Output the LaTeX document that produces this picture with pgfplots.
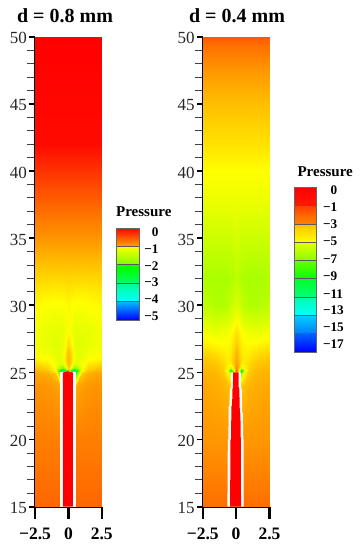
\documentclass[border=0pt]{standalone}
\usepackage{fontspec}
\setmainfont{Liberation Serif}
\usepackage{pgfplots}
\usepackage{pgfplotstable}
\pgfplotsset{compat=1.18}
\pgfplotsset{
  colormap={mapL}{rgb255(0pt)=(0,0,255) rgb255(125pt)=(0,255,255) rgb255(250pt)=(0,255,0) rgb255(375pt)=(255,255,0) rgb255(500pt)=(255,0,0)},
  colormap={mapR}{rgb255(0pt)=(0,0,255) rgb255(45pt)=(0,255,255) rgb255(90pt)=(0,255,0) rgb255(135pt)=(255,255,0) rgb255(160pt)=(255,110,0) rgb255(170pt)=(255,0,0)},
  field/.style={
    scale only axis, width=66.8pt, height=470pt, clip=false,
    xmin=-2.5, xmax=2.5, ymin=15, ymax=50,
    axis x line*=bottom, axis y line*=left,
    axis line style={-, line width=2.2pt, black},
    ytick={15,20,25,30,35,40,45,50},
    yticklabels={15,20,25,30,35,40,45,50},
    minor y tick num=4,
    tick align=outside,
    major tick length=5.5pt, minor tick length=7.5pt,
    ytick style={line width=1.8pt, black},
    minor y tick style={line width=0.9pt, black!75},
    xtick={-2.5,0,2.5},
    xticklabels={−2.5,0,2.5},
    xtick style={draw=none},
    yticklabel style={font=\fontsize{17}{17}\selectfont, text=black!85, inner sep=0pt, xshift=-2.5pt, yshift=-1.5pt},
    xticklabel style={font=\fontsize{17.5}{17.5}\bfseries\selectfont, inner sep=0pt, text height=12pt, text depth=0pt, yshift=-15pt},
    point meta=explicit,
  },
  cbar/.style={
    scale only axis, width=22.8pt, clip=false,
    xmin=0, xmax=1, xtick=\empty,
    axis line style={line width=0.9pt, black!60},
    axis on top,
    yticklabel pos=right,
    ytick style={draw=none},
    major tick length=0pt,
    yticklabel style={font=\fontsize{13.2}{13.2}\bfseries\selectfont, inner sep=0pt, anchor=west},
    point meta=explicit,
  },
}
\pgfplotstableread[row sep=\\]{
x y p\\
2.5 15 -.5\\ 1.5 15 -.5\\ .95 15 -.5\\ .6 15 -.5\\ .4 15 -.5\\ .2 15 -.5\\ 0 15 -.5\\
2.5 20 -.62\\ 1.5 20 -.62\\ .95 20 -.62\\ .6 20 -.62\\ .4 20 -.62\\ .2 20 -.62\\ 0 20 -.62\\
2.5 24 -.72\\ 1.5 24 -.74\\ .95 24 -.78\\ .6 24 -.85\\ .4 24 -.85\\ .2 24 -.85\\ 0 24 -.85\\
2.5 24.9 -.8\\ 1.5 24.9 -.85\\ .95 24.9 -1.0\\ .6 24.9 -2.0\\ .4 24.9 -1.5\\ .2 24.9 -.8\\ 0 24.9 -.4\\
2.5 25.1 -.85\\ 1.5 25.1 -.95\\ .95 25.1 -1.25\\ .6 25.1 -2.6\\ .4 25.1 -3.6\\ .2 25.1 -2.6\\ 0 25.1 -.7\\
2.5 25.3 -.95\\ 1.5 25.3 -1.05\\ .95 25.3 -1.3\\ .6 25.3 -1.7\\ .4 25.3 -1.9\\ .2 25.3 -1.4\\ 0 25.3 -1.0\\
2.5 25.6 -1.05\\ 1.5 25.6 -1.15\\ .95 25.6 -1.3\\ .6 25.6 -1.4\\ .4 25.6 -1.4\\ .2 25.6 -1.1\\ 0 25.6 -.9\\
2.5 26 -1.2\\ 1.5 26 -1.25\\ .95 26 -1.35\\ .6 26 -1.38\\ .4 26 -1.3\\ .2 26 -1.05\\ 0 26 -.88\\
2.5 26.5 -1.28\\ 1.5 26.5 -1.33\\ .95 26.5 -1.38\\ .6 26.5 -1.38\\ .4 26.5 -1.32\\ .2 26.5 -1.1\\ 0 26.5 -.92\\
2.5 27 -1.3\\ 1.5 27 -1.36\\ .95 27 -1.4\\ .6 27 -1.4\\ .4 27 -1.36\\ .2 27 -1.2\\ 0 27 -1.05\\
2.5 28 -1.3\\ 1.5 28 -1.36\\ .95 28 -1.38\\ .6 28 -1.38\\ .4 28 -1.38\\ .2 28 -1.32\\ 0 28 -1.22\\
2.5 30 -1.22\\ 1.5 30 -1.26\\ .95 30 -1.28\\ .6 30 -1.27\\ .4 30 -1.27\\ .2 30 -1.25\\ 0 30 -1.22\\
2.5 33 -.95\\ 1.5 33 -.95\\ .95 33 -.95\\ .6 33 -.95\\ .4 33 -.95\\ .2 33 -.95\\ 0 33 -.95\\
2.5 35 -.73\\ 1.5 35 -.73\\ .95 35 -.73\\ .6 35 -.73\\ .4 35 -.73\\ .2 35 -.73\\ 0 35 -.73\\
2.5 37 -.54\\ 1.5 37 -.54\\ .95 37 -.54\\ .6 37 -.54\\ .4 37 -.54\\ .2 37 -.54\\ 0 37 -.54\\
2.5 40 -.25\\ 1.5 40 -.25\\ .95 40 -.25\\ .6 40 -.25\\ .4 40 -.25\\ .2 40 -.25\\ 0 40 -.25\\
2.5 42 -.05\\ 1.5 42 -.05\\ .95 42 -.05\\ .6 42 -.05\\ .4 42 -.05\\ .2 42 -.05\\ 0 42 -.05\\
2.5 50 0\\ 1.5 50 0\\ .95 50 0\\ .6 50 0\\ .4 50 0\\ .2 50 0\\ 0 50 0\\
}\fieldL
\pgfplotstableread[row sep=\\]{
x y p\\
2.5 15 -1.0\\ 1.5 15 -1.0\\ .95 15 -1.0\\ .6 15 -1.0\\ .35 15 -1.0\\ .18 15 -1.0\\ 0 15 -1.0\\
2.5 20 -1.7\\ 1.5 20 -1.7\\ .95 20 -1.7\\ .6 20 -1.7\\ .35 20 -1.7\\ .18 20 -1.7\\ 0 20 -1.7\\
2.5 24 -2.0\\ 1.5 24 -2.1\\ .95 24 -2.2\\ .6 24 -2.4\\ .35 24 -2.6\\ .18 24 -2.6\\ 0 24 -2.6\\
2.5 24.9 -2.15\\ 1.5 24.9 -2.25\\ .95 24.9 -2.5\\ .6 24.9 -3.3\\ .35 24.9 -5\\ .18 24.9 -2.5\\ 0 24.9 -1\\
2.5 25.1 -2.2\\ 1.5 25.1 -2.3\\ .95 25.1 -2.6\\ .6 25.1 -3.8\\ .35 25.1 -9\\ .18 25.1 -4\\ 0 25.1 -.8\\
2.5 25.3 -2.3\\ 1.5 25.3 -2.4\\ .95 25.3 -2.7\\ .6 25.3 -3.4\\ .35 25.3 -4.5\\ .18 25.3 -2.8\\ 0 25.3 -1.5\\
2.5 25.6 -2.4\\ 1.5 25.6 -2.5\\ .95 25.6 -2.8\\ .6 25.6 -3.2\\ .35 25.6 -3.2\\ .18 25.6 -2.4\\ 0 25.6 -1.8\\
2.5 26 -2.5\\ 1.5 26 -2.7\\ .95 26 -3\\ .6 26 -3.2\\ .35 26 -3\\ .18 26 -2.5\\ 0 26 -2\\
2.5 26.5 -2.8\\ 1.5 26.5 -3\\ .95 26.5 -3.2\\ .6 26.5 -3.3\\ .35 26.5 -3.1\\ .18 26.5 -2.7\\ 0 26.5 -2.2\\
2.5 27 -3.1\\ 1.5 27 -3.3\\ .95 27 -3.4\\ .6 27 -3.4\\ .35 27 -3.2\\ .18 27 -2.9\\ 0 27 -2.5\\
2.5 28 -3.7\\ 1.5 28 -3.9\\ .95 28 -3.8\\ .6 28 -3.7\\ .35 28 -3.5\\ .18 28 -3.3\\ 0 28 -3\\
2.5 29 -4.2\\ 1.5 29 -4.4\\ .95 29 -4.3\\ .6 29 -4.2\\ .35 29 -4\\ .18 29 -3.8\\ 0 29 -3.6\\
2.5 30 -4.6\\ 1.5 30 -4.9\\ .95 30 -4.9\\ .6 30 -4.7\\ .35 30 -4.5\\ .18 30 -4.3\\ 0 30 -4.1\\
2.5 32 -4.9\\ 1.5 32 -5\\ .95 32 -5\\ .6 32 -5\\ .35 32 -4.9\\ .18 32 -4.8\\ 0 32 -4.6\\
2.5 35 -4.4\\ 1.5 35 -4.4\\ .95 35 -4.4\\ .6 35 -4.4\\ .35 35 -4.4\\ .18 35 -4.3\\ 0 35 -4.2\\
2.5 38 -3.8\\ 1.5 38 -3.8\\ .95 38 -3.8\\ .6 38 -3.8\\ .35 38 -3.8\\ .18 38 -3.8\\ 0 38 -3.8\\
2.5 40 -3.5\\ 1.5 40 -3.5\\ .95 40 -3.5\\ .6 40 -3.5\\ .35 40 -3.5\\ .18 40 -3.5\\ 0 40 -3.5\\
2.5 42 -3\\ 1.5 42 -3\\ .95 42 -3\\ .6 42 -3\\ .35 42 -3\\ .18 42 -3\\ 0 42 -3\\
2.5 45 -2.4\\ 1.5 45 -2.4\\ .95 45 -2.4\\ .6 45 -2.4\\ .35 45 -2.4\\ .18 45 -2.4\\ 0 45 -2.4\\
2.5 47.5 -1.7\\ 1.5 47.5 -1.7\\ .95 47.5 -1.7\\ .6 47.5 -1.7\\ .35 47.5 -1.7\\ .18 47.5 -1.7\\ 0 47.5 -1.7\\
2.5 50 -.8\\ 1.5 50 -.8\\ .95 50 -.8\\ .6 50 -.8\\ .35 50 -.8\\ .18 50 -.8\\ 0 50 -.8\\
}\fieldR
\pgfplotstableread[row sep=\\]{
x y p\\
0 5 0\\ 1 5 0\\ 0 4 -.8\\ 1 4 -.8\\
0 4 -1.25\\ 1 4 -1.25\\ 0 3 -1.9\\ 1 3 -1.9\\
0 3 -2.4\\ 1 3 -2.4\\ 0 2 -3.0\\ 1 2 -3.0\\
0 2 -3.2\\ 1 2 -3.2\\ 0 1 -3.8\\ 1 1 -3.8\\
0 1 -4.1\\ 1 1 -4.1\\ 0 0 -5\\ 1 0 -5\\
}\barL
\pgfplotstableread[row sep=\\]{
x y p\\
0 9 0\\ 1 9 0\\ 0 8 -.25\\ 1 8 -.25\\
0 8 -.55\\ 1 8 -.55\\ 0 7 -1.3\\ 1 7 -1.3\\
0 7 -2.4\\ 1 7 -2.4\\ 0 6 -3.5\\ 1 6 -3.5\\
0 6 -3.94\\ 1 6 -3.94\\ 0 5 -5.7\\ 1 5 -5.7\\
0 5 -6.2\\ 1 5 -6.2\\ 0 4 -8\\ 1 4 -8\\
0 4 -8.7\\ 1 4 -8.7\\ 0 3 -10.1\\ 1 3 -10.1\\
0 3 -11\\ 1 3 -11\\ 0 2 -12.5\\ 1 2 -12.5\\
0 2 -13.3\\ 1 2 -13.3\\ 0 1 -14.8\\ 1 1 -14.8\\
0 1 -15.3\\ 1 1 -15.3\\ 0 0 -17\\ 1 0 -17\\
}\barR
\begin{document}
\begin{tikzpicture}[x=1pt,y=1pt]
\useasboundingbox (0,0) rectangle (360pt,-550pt);
% left panel
\begin{axis}[field, at={(35pt,-506.7pt)}, anchor=south west,
  colormap name=mapL, point meta min=-5, point meta max=0]
\addplot[surf, shader=interp, mesh/cols=7] table[x=x,y=y,meta=p]{\fieldL};
\addplot[surf, shader=interp, mesh/cols=7] table[x expr=-\thisrow{x},y=y,meta=p]{\fieldL};
\addplot[fill=white, draw=none] coordinates {(-.61,15)(-.61,25)(.56,25)(.56,15)} -- cycle;
\addplot[fill=red, draw=none] coordinates {(-.41,15)(-.41,25)(-.2,25.03)(-.05,25.1)(.12,25.03)(.34,25)(.34,15)} -- cycle;
\draw[line width=2.2pt] (axis cs:-2.5,15) -- ++(0pt,-12pt);
\draw[line width=2.2pt] (axis cs:0,15) -- ++(0pt,-12pt);
\draw[line width=2.2pt] (axis cs:2.5,15) -- ++(0pt,-12pt);
\end{axis}
% right panel
\begin{axis}[field, at={(202.7pt,-506.7pt)}, anchor=south west,
  colormap name=mapR, point meta min=-17, point meta max=0]
\addplot[surf, shader=interp, mesh/cols=7] table[x=x,y=y,meta=p]{\fieldR};
\addplot[surf, shader=interp, mesh/cols=7] table[x expr=-\thisrow{x},y=y,meta=p]{\fieldR};
\addplot[fill=white, draw=none] coordinates {(-.65,15)(-.62,20)(-.58,20)(-.55,22.5)(-.5,22.5)(-.45,23.8)(-.4,23.8)(-.38,25)(.35,25)(.37,23.8)(.42,23.8)(.46,22)(.5,22)(.54,20)(.57,20)(.57,15)} -- cycle;
\addplot[fill=red, draw=none] coordinates {(-.45,15)(-.42,20)(-.38,20)(-.35,22.5)(-.3,22.5)(-.27,23.8)(-.24,23.8)(-.22,25)(.18,25)(.2,23.8)(.24,23.8)(.28,22)(.32,22)(.35,20)(.37,15)} -- cycle;
\draw[line width=2.2pt] (axis cs:-2.5,15) -- ++(0pt,-12pt);
\draw[line width=2.2pt] (axis cs:0,15) -- ++(0pt,-12pt);
\draw[line width=2.2pt] (axis cs:2.5,15) -- ++(0pt,-12pt);
\end{axis}
% colour bars
\begin{axis}[cbar, at={(116.3pt,-320pt)}, anchor=south west, height=92pt,
  ymin=0, ymax=5, colormap name=mapL, point meta min=-5, point meta max=0,
  ytick={0.23,1.14,2.05,2.95,3.86,4.77},
  yticklabels={−5,−4,−3,−2,−1,\phantom{−}0},
  yticklabel style={xshift=5pt}]
\addplot[surf, shader=interp, mesh/cols=2] table[x=x,y=y,meta=p]{\barL};
\addplot[black!65, line width=0.8pt] coordinates {(0,1)(1,1)};
\addplot[black!65, line width=0.8pt] coordinates {(0,2)(1,2)};
\addplot[black!65, line width=0.8pt] coordinates {(0,3)(1,3)};
\addplot[black!65, line width=0.8pt] coordinates {(0,4)(1,4)};
\end{axis}
\begin{axis}[cbar, at={(294pt,-352pt)}, anchor=south west, height=164.5pt,
  ymin=0, ymax=9, colormap name=mapR, point meta min=-17, point meta max=0,
  ytick={0.44,1.37,2.28,3.19,4.14,5.09,6.04,6.99,7.9,8.86},
  yticklabels={−17,−15,−13,−11,−9,−7,−5,−3,−1,\phantom{−}0},
  yticklabel style={xshift=6pt}]
\addplot[surf, shader=interp, mesh/cols=2] table[x=x,y=y,meta=p]{\barR};
\addplot[black!65, line width=0.8pt] coordinates {(0,1)(1,1)};
\addplot[black!65, line width=0.8pt] coordinates {(0,2)(1,2)};
\addplot[black!65, line width=0.8pt] coordinates {(0,3)(1,3)};
\addplot[black!65, line width=0.8pt] coordinates {(0,4)(1,4)};
\addplot[black!65, line width=0.8pt] coordinates {(0,5)(1,5)};
\addplot[black!65, line width=0.8pt] coordinates {(0,6)(1,6)};
\addplot[black!65, line width=0.8pt] coordinates {(0,7)(1,7)};
\addplot[black!65, line width=0.8pt] coordinates {(0,8)(1,8)};
\end{axis}
% titles
\node[anchor=base, inner sep=0pt, font=\fontsize{20}{20}\bfseries\selectfont] at (65pt,-22.6pt) {d = 0.8 mm};
\node[anchor=base, inner sep=0pt, font=\fontsize{20}{20}\bfseries\selectfont] at (237pt,-22.6pt) {d = 0.4 mm};
\node[anchor=base, inner sep=0pt, font=\fontsize{15}{15}\bfseries\selectfont] at (143.8pt,-216.7pt) {Pressure};
\node[anchor=base, inner sep=0pt, font=\fontsize{15}{15}\bfseries\selectfont] at (325.2pt,-176pt) {Pressure};
\end{tikzpicture}
\end{document}
